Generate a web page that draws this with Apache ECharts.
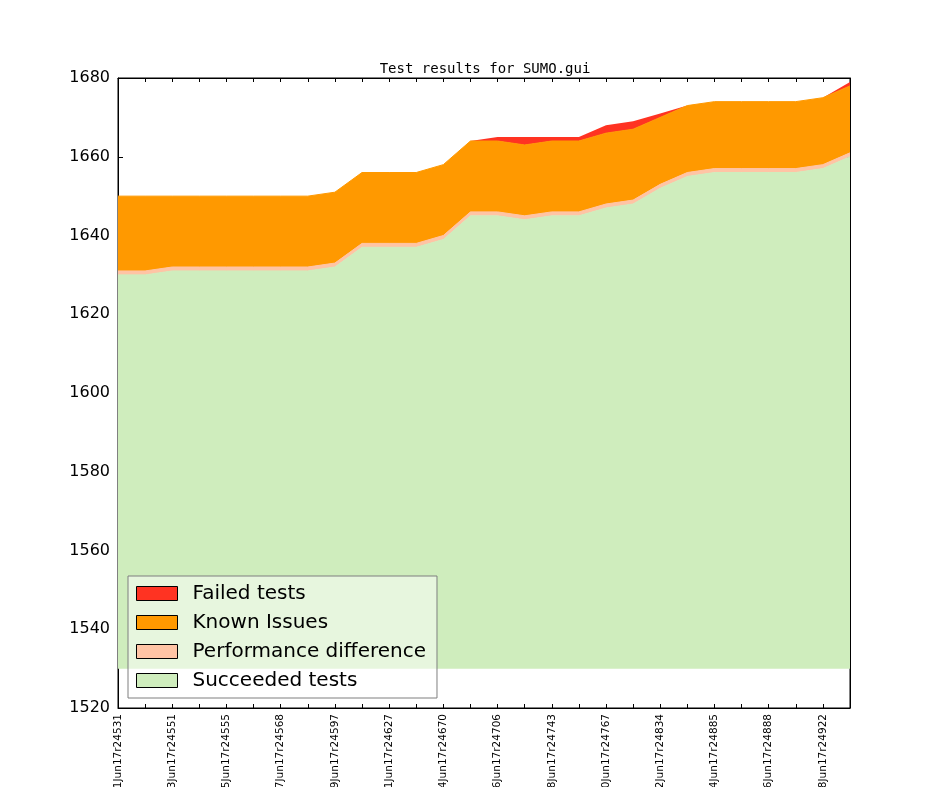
<!DOCTYPE html>
<html>
<head>
<meta charset="utf-8">
<script src="https://cdn.jsdelivr.net/npm/echarts@6/dist/echarts.min.js"></script>
<style>
html,body{margin:0;padding:0;background:#fff;}
#chart{width:944px;height:787px;}
</style>
</head>
<body>
<div id="chart"></div>
<script>
// x categories (labels shown every second point; others unlabeled in the reference)
const categories = [
  "01Jun17r24531", "", "03Jun17r24551", "", "05Jun17r24555", "", "07Jun17r24568", "",
  "09Jun17r24597", "", "11Jun17r24627", "", "14Jun17r24670", "", "16Jun17r24706", "",
  "18Jun17r24743", "", "20Jun17r24767", "", "22Jun17r24834", "", "24Jun17r24885", "",
  "26Jun17r24888", "", "28Jun17r24922", ""
];
const succeeded = [1630,1630,1631,1631,1631,1631,1631,1631,1632,1637,1637,1637,1639,1645,1645,1644,1645,1645,1647,1648,1652,1655,1656,1656,1656,1656,1657,1660];
const perfDiff  = [1,1,1,1,1,1,1,1,1,1,1,1,1,1,1,1,1,1,1,1,1,1,1,1,1,1,1,1];
const knownIssues = [19,19,18,18,18,18,18,18,18,18,18,18,18,18,18,18,18,18,18,18,17,17,17,17,17,17,17,17];
const failed    = [0,0,0,0,0,0,0,0,0,0,0,0,0,0,1,2,1,1,2,2,1,0,0,0,0,0,0,1];
const yTicks = {min: 1520, max: 1680, interval: 20};
const baseline = 1530;

const colors = {
  failed: '#ff3322',
  known: '#ff9900',
  perf: '#ffc4a5',
  succ: '#cfedbd'
};

const chart = echarts.init(document.getElementById('chart'));
const font = 'DejaVu Sans';

function areaSeries(name, data, color, lineWidth, extraArea) {
  return {
    name: name,
    type: 'line',
    stack: 'total',
    data: data,
    showSymbol: false,
    symbol: 'none',
    smooth: false,
    lineStyle: {width: lineWidth, color: color},
    itemStyle: {color: color, borderColor: '#000', borderWidth: 1},
    areaStyle: Object.assign({color: color, opacity: 1}, extraArea || {}),
    emphasis: {disabled: true},
    animation: false
  };
}

const option = {
  animation: false,
  backgroundColor: '#fff',
  title: {
    text: 'Test results for SUMO.gui',
    left: 480,
    textAlign: 'center',
    top: 57,
    textStyle: {fontFamily: 'DejaVu Sans Mono', fontSize: 14, fontWeight: 'normal', color: '#000'}
  },
  grid: {
    left: 118, right: 94, top: 78, bottom: 79,
    containLabel: false,
    outerBoundsMode: 'none',
    show: true, borderColor: '#000', borderWidth: 1, backgroundColor: 'transparent'
  },
  legend: {
    orient: 'vertical',
    left: 128,
    top: 576,
    padding: [6, 11, 6, 8],
    itemWidth: 41,
    itemHeight: 14,
    itemGap: 6,
    icon: 'rect',
    backgroundColor: 'rgba(255,255,255,0.5)',
    borderColor: '#7f7f7f',
    borderWidth: 1,
    borderRadius: 0,
    data: ['Failed tests', 'Known Issues', 'Performance difference', 'Succeeded tests'],
    itemStyle: {borderColor: '#000', borderWidth: 1},
    textStyle: {fontFamily: font, fontSize: 20, color: '#000', lineHeight: 23, padding: [0, 0, 0, 10]},
    selectedMode: false
  },
  xAxis: [{
    type: 'category',
    boundaryGap: false,
    data: categories,
    axisLine: {show: true, lineStyle: {color: '#000', width: 1}},
    axisTick: {show: true, inside: true, length: 4, interval: 0, lineStyle: {color: '#000'}},
    axisLabel: {show: true, interval: 1, rotate: 90, fontFamily: font, fontSize: 10.5, color: '#000', margin: 6, hideOverlap: false},
    splitLine: {show: false}
  }, {
    type: 'category',
    position: 'top',
    boundaryGap: false,
    data: categories,
    axisLine: {show: true, lineStyle: {color: '#000', width: 1}},
    axisTick: {show: true, inside: true, length: 4, interval: 0, lineStyle: {color: '#000'}},
    axisLabel: {show: false},
    splitLine: {show: false}
  }],
  yAxis: [{
    type: 'value',
    min: yTicks.min, max: yTicks.max, interval: yTicks.interval,
    axisLine: {show: true, lineStyle: {color: '#000', width: 1}},
    axisTick: {show: true, inside: true, length: 5, lineStyle: {color: '#000'}},
    axisLabel: {fontFamily: font, fontSize: 16, color: '#000', margin: 8, formatter: function (v) { return String(v); }},
    splitLine: {show: false}
  }, {
    type: 'value',
    position: 'right',
    min: yTicks.min, max: yTicks.max, interval: yTicks.interval,
    axisLine: {show: true, lineStyle: {color: '#000', width: 1}},
    axisTick: {show: true, inside: true, length: 5, lineStyle: {color: '#000'}},
    axisLabel: {show: false},
    splitLine: {show: false}
  }],
  series: [
    areaSeries('Succeeded tests', succeeded, colors.succ, 1, {origin: baseline}),
    areaSeries('Performance difference', perfDiff, colors.perf, 1),
    areaSeries('Known Issues', knownIssues, colors.known, 1),
    areaSeries('Failed tests', failed, colors.failed, 0)
  ]
};
chart.setOption(option);
</script>
</body>
</html>
